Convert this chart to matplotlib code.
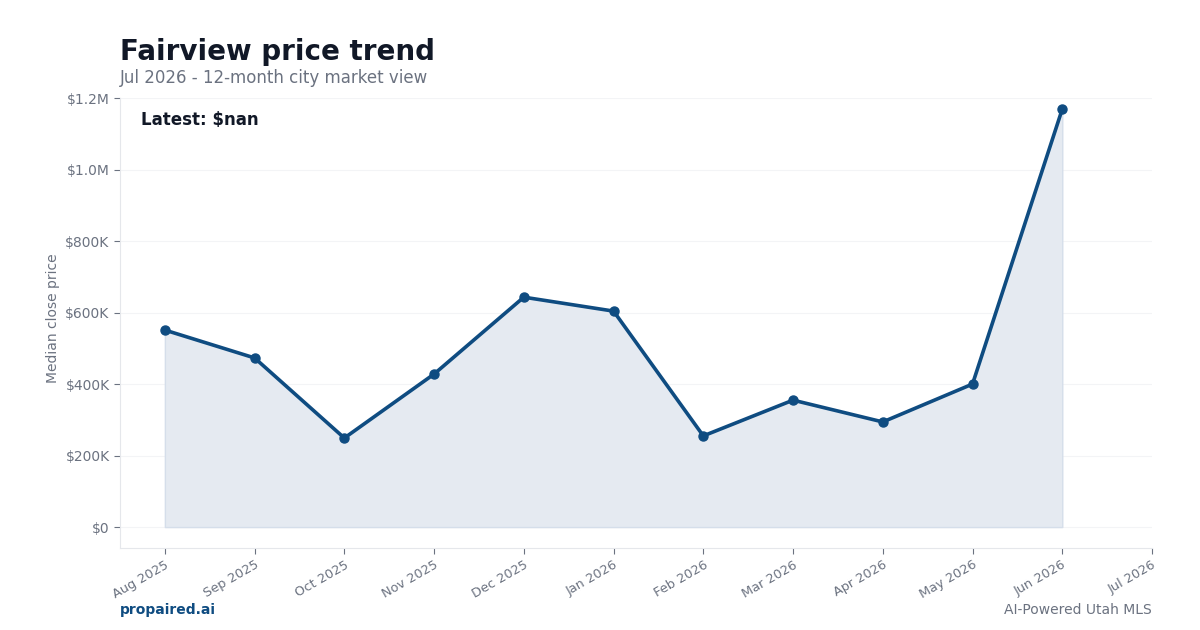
import matplotlib
matplotlib.use("Agg")
import matplotlib.pyplot as plt
import numpy as np
from matplotlib.ticker import FuncFormatter

months = ["Aug 2025", "Sep 2025", "Oct 2025", "Nov 2025", "Dec 2025", "Jan 2026",
          "Feb 2026", "Mar 2026", "Apr 2026", "May 2026", "Jun 2026", "Jul 2026"]
median_price = [551000, 473000, 249000, 428000, 643000, 604000,
                255000, 355000, 294000, 400000, 1169000, np.nan]

title = "Fairview price trend"
subtitle = "Jul 2026 - 12-month city market view"
ylabel = "Median close price"
latest_label = "Latest: $nan"
brand_left = "propaired.ai"
brand_right = "AI-Powered Utah MLS"

x = np.arange(len(months))
vals = np.array(median_price, dtype=float)

LINE = "#0f4c81"
TXT = "#111827"
GRAY = "#6b7280"
SPINE = "#e5e7eb"

fig = plt.figure(figsize=(12, 6.3), dpi=100)
ax = fig.add_axes([0.1, 0.1302, 0.86, 0.7142])

mask = ~np.isnan(vals)
ax.fill_between(x[mask], vals[mask], 0, color="#e5eaf1", alpha=1.0,
                edgecolor="#d5deea", linewidth=1, zorder=1)
ax.plot(x, vals, color=LINE, linewidth=2.6, marker="o", markersize=6.5,
        zorder=3)

ax.set_xlim(-0.5, len(months) - 1)
ax.set_ylim(-58500, 1200000)
ax.set_yticks([0, 200000, 400000, 600000, 800000, 1000000, 1200000])

def fmt(v, pos):
    if v >= 1e6:
        return f"${v/1e6:.1f}M"
    if v >= 1e3:
        return f"${v/1e3:.0f}K"
    return f"${v:.0f}"
ax.yaxis.set_major_formatter(FuncFormatter(fmt))

ax.set_xticks(x)
ax.set_xticklabels(months, rotation=30, ha="right", rotation_mode="anchor")

ax.grid(axis="y", color="#f3f4f6", linewidth=0.8)
ax.set_axisbelow(True)
for s in ["top", "right"]:
    ax.spines[s].set_visible(False)
for s in ["left", "bottom"]:
    ax.spines[s].set_color(SPINE)
ax.tick_params(axis="both", colors=GRAY, labelsize=10, length=4)
ax.tick_params(axis="x", labelsize=9.3)
ax.set_ylabel(ylabel, color=GRAY, fontsize=10)
ax.yaxis.label.set_y(0.511)

ax.text(0.02, 0.952, latest_label, transform=ax.transAxes, fontsize=12,
        fontweight="bold", color=TXT, va="center", ha="left")

fig.text(0.1, 0.917, title, fontsize=20, fontweight="bold", color=TXT,
         ha="left", va="center")
fig.text(0.1, 0.876, subtitle, fontsize=12, color=GRAY, ha="left",
         va="center")
fig.text(0.1, 0.032, brand_left, fontsize=10, fontweight="bold", color=LINE,
         ha="left", va="center")
fig.text(0.96, 0.032, brand_right, fontsize=10, color=GRAY, ha="right",
         va="center")

fig.savefig("out.png", dpi=100, facecolor="white")
